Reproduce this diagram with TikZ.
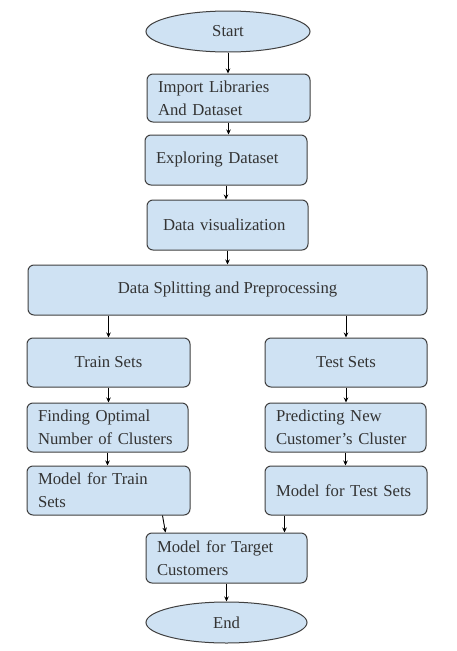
\documentclass[tikz,border=0pt]{standalone}
\usepackage{fontspec}
\setmainfont{Liberation Serif}
\usetikzlibrary{shapes.geometric,arrows.meta,calc}
\definecolor{boxfill}{HTML}{CFE2F3}
\definecolor{boxline}{HTML}{404040}
\definecolor{txt}{HTML}{333333}
\tikzset{
  base/.style={draw=boxline, fill=boxfill, line width=1pt, text=txt,
    font=\fontsize{16.7}{23}\selectfont, inner ysep=0pt},
  term/.style={base, ellipse, minimum width=#1, inner sep=0pt},
  box/.style={base, rectangle, rounded corners=6pt, align=left,
    inner xsep=11pt, text width=#1-22pt, minimum width=#1},
  cbox/.style={base, rectangle, rounded corners=6pt, align=center,
    minimum width=#1},
  arr/.style={draw=black, line width=0.9pt, -{Stealth[length=5pt,width=4.5pt]}}
}
\begin{document}
\begin{tikzpicture}[x=1pt,y=-1pt]
\useasboundingbox[fill=white] (0,0) rectangle (456,651);
\node[term=164pt, minimum height=41pt] (start) at (228,31.5) {Start};
\node[box=163pt, minimum height=48pt] (import) at (228.5,98) {Import Libraries\\And Dataset};
\node[box=162pt, minimum height=50pt] (explore) at (226,160) {Exploring Dataset};
\node[base, rectangle, rounded corners=6pt, align=left, inner xsep=16pt,
      text width=129pt, minimum width=161pt, minimum height=50pt] (viz) at (227.5,225) {Data visualization};
\node[cbox=399pt, minimum height=50pt] (split) at (227.5,290) {Data Splitting and Preprocessing};
\node[cbox=163pt, minimum height=49pt] (train) at (108.5,362.5) {Train Sets};
\node[cbox=162pt, minimum height=49pt] (test) at (346,362.5) {Test Sets};
\node[box=161pt, minimum height=49pt] (finding) at (107.5,427.5) {Finding Optimal\\Number of Clusters};
\node[box=161pt, minimum height=49pt] (predict) at (345.5,427.5) {Predicting New\\Customer’s Cluster};
\node[box=163pt, minimum height=49pt] (mtrain) at (108.5,490.5) {Model for Train\\Sets};
\node[box=162pt, minimum height=49pt] (mtest) at (346,490.5) {Model for Test Sets};
\node[box=161pt, minimum height=50pt] (target) at (226.5,558) {Model for Target\\Customers};
\node[term=161pt, minimum height=41pt] (end) at (226.5,622.5) {End};

\draw[arr] (start.south) -- (start.south |- import.north);
\draw[arr] (import.south) -- (import.south |- explore.north);
\draw[arr] (explore.south) -- (explore.south |- viz.north);
\draw[arr] (viz.south) -- (viz.south |- split.north);
\draw[arr] (train.north |- split.south) -- (train.north);
\draw[arr] (test.north |- split.south) -- (test.north);
\draw[arr] (train.south) -- (train.south |- finding.north);
\draw[arr] (test.south) -- (test.south |- predict.north);
\draw[arr] (finding.south) -- (finding.south |- mtrain.north);
\draw[arr] (predict.south) -- (predict.south |- mtest.north);
\coordinate (tl) at ($(target.north west)+(20,0)$);
\coordinate (tr) at ($(target.north east)+(-23,0)$);
\coordinate (ml) at ($(mtrain.south east)+(-28,0)$);
\draw[arr] (ml) -- (tl);
\draw[arr] (tr |- mtest.south) -- (tr);
\draw[arr] (target.south) -- (target.south |- end.north);
\end{tikzpicture}
\end{document}
